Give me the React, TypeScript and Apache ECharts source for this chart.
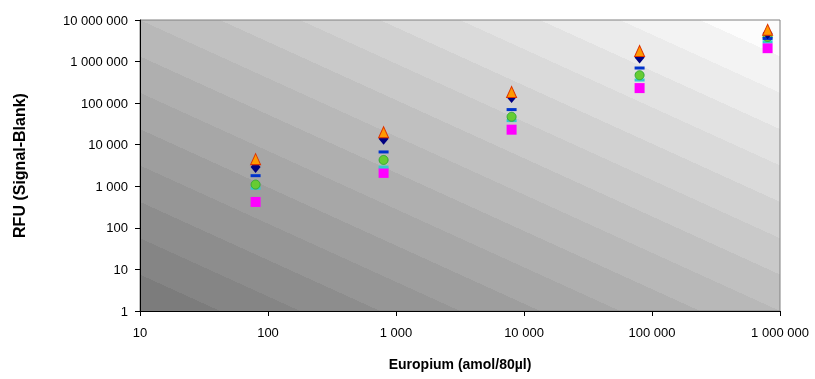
import React, { useEffect, useRef } from "react";
import * as echarts from "echarts";

const xValues = [80, 800, 8000, 80000, 800000];
const seriesOrange = [4500, 20000, 185000, 1800000, 5800000];
const seriesNavy = [2900, 14000, 140000, 1250000, 4800000];
const seriesBlue = [1800, 6700, 70000, 700000, 3600000];
const seriesGreen = [1100, 4300, 47000, 470000, 3900000];
const seriesCyan = [900, 2900, 38000, 360000, 3000000];
const seriesMagenta = [420, 2100, 23000, 230000, 2100000];

const fmt = (v: number) => String(Math.round(v)).replace(/\B(?=(\d{3})+(?!\d))/g, " ");

function bandGradient() {
  const n = 16;
  const stops: { offset: number; color: string }[] = [];
  const c0 = 124, c1 = 252;
  for (let i = 0; i < n; i++) {
    const c = Math.round(c0 + ((c1 - c0) * i) / (n - 1));
    const col = `rgb(${c},${c},${c})`;
    stops.push({ offset: i / n, color: col });
    stops.push({ offset: (i + 1) / n, color: col });
  }
  return new echarts.graphic.LinearGradient(0, 1, 1, 0, stops);
}

export default function App() {
  const ref = useRef<HTMLDivElement>(null);
  useEffect(() => {
    const chart = echarts.init(ref.current!, undefined, { renderer: "svg" });
    const mk = (
      name: string,
      data: number[],
      symbol: string,
      size: number | number[],
      color: string,
      border?: string
    ) => ({
      name,
      type: "scatter",
      data: xValues.map((x, i) => [x, data[i]]),
      symbol,
      symbolSize: size,
      itemStyle: { color, borderColor: border || color, borderWidth: border ? 1 : 0, opacity: 1 },
    });
    chart.setOption({
      animation: false,
      textStyle: { fontFamily: "Liberation Sans, Arial, sans-serif" },
      grid: {
        left: 140,
        right: 35,
        top: 20,
        bottom: 68,
        show: true,
        backgroundColor: bandGradient(),
        borderColor: "#808080",
        borderWidth: 1,
      },
      xAxis: {
        type: "log",
        logBase: 10,
        min: 10,
        max: 1000000,
        name: "Europium (amol/80µl)",
        nameLocation: "middle",
        nameGap: 46,
        nameTextStyle: {
          fontWeight: "bold",
          fontSize: 14,
          color: "#000",
          fontFamily: "Liberation Sans Narrow, Arial Narrow, Liberation Sans, sans-serif",
        },
        axisLine: { lineStyle: { color: "#000", width: 1 } },
        axisTick: { show: true, length: 5, lineStyle: { color: "#000" } },
        axisLabel: { formatter: fmt, color: "#000", fontSize: 13, margin: 15 },
        splitLine: { show: false },
        minorTick: { show: false },
      },
      yAxis: {
        type: "log",
        logBase: 10,
        min: 1,
        max: 10000000,
        name: "RFU (Signal-Blank)",
        nameLocation: "middle",
        nameGap: 113,
        nameTextStyle: { fontWeight: "bold", fontSize: 16, color: "#000" },
        axisLine: { lineStyle: { color: "#000", width: 1 } },
        axisTick: { show: true, length: 5, lineStyle: { color: "#000" } },
        axisLabel: { formatter: fmt, color: "#000", fontSize: 13, margin: 12 },
        splitLine: { show: false },
      },
      series: [
        mk("S6", seriesMagenta, "rect", 10, "#ff00ff"),
        mk("S5", seriesCyan, "rect", [10, 3], "#33cccc"),
        mk("S4", seriesGreen, "circle", 9, "#66cc33", "#33aa33"),
        mk("S3", seriesBlue, "rect", [10, 3], "#0033cc"),
        mk("S2", seriesNavy, "diamond", [10, 12], "#000080"),
        mk("S1", seriesOrange, "triangle", [10, 11], "#ff9900", "#dd3300"),
      ],
    });
    return () => chart.dispose();
  }, []);
  return <div ref={ref} style={{ position: "fixed", left: 0, top: 0, width: 815, height: 379 }} />;
}
